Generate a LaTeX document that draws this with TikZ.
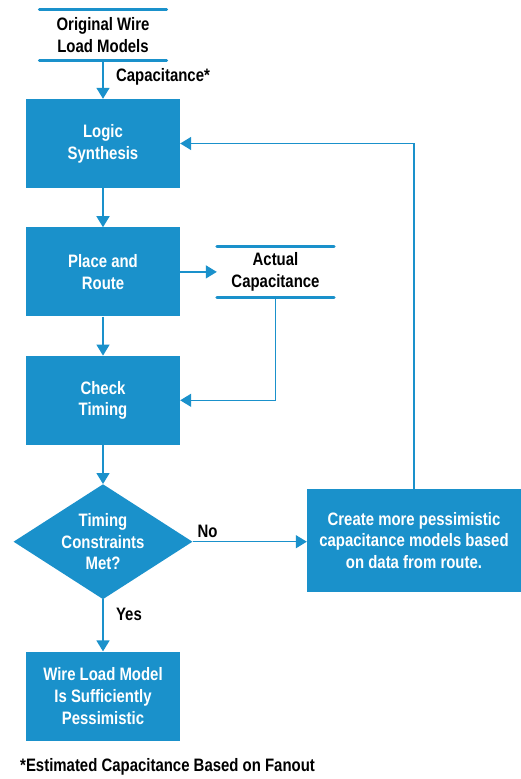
\documentclass[tikz,border=0pt]{standalone}
\usepackage{fontspec}
\setmainfont{Liberation Sans}[FakeStretch=0.83]
\usetikzlibrary{shapes.geometric, arrows.meta, positioning}
\definecolor{flowblue}{HTML}{1A91CB}

\begin{document}
\begin{tikzpicture}[x=1pt, y=-1pt,
    node distance=39pt,
    box/.style={rectangle, fill=flowblue, text=white, minimum width=154pt, minimum height=89pt, align=center, font=\bfseries\fontsize{18}{21.7}\selectfont},
    decision/.style={diamond, fill=flowblue, text=white, minimum width=179pt, minimum height=115pt, aspect=1.56, inner sep=0pt, align=center, font=\bfseries\fontsize{18}{21.7}\selectfont},
    store/.style={rectangle, minimum width=127pt, minimum height=50pt, align=center, font=\bfseries\fontsize{18}{21.7}\selectfont},
    tag/.style={anchor=west, xshift=9pt, text=black, font=\bfseries\fontsize{18}{21.7}\selectfont},
    rule/.style={flowblue, line width=3pt, line cap=round},
    arr/.style={-{Triangle[length=11pt, width=13pt]}, line width=1.5pt, flowblue},
  ]
    \useasboundingbox (0,0) rectangle (521,779);
    \node[store] (wire) at (103,35) {Original Wire\\Load Models};
    \node[box] (logic) at (103,143.5) {Logic\\Synthesis};
    \node[box, below=of logic] (place) {Place and\\Route};
    \node[box, below=of place] (check) {Check\\Timing};
    \node[decision, below=of check] (met) {Timing\\Constraints\\Met?};
    \node[box, below=52pt of met] (done) {Wire Load Model\\Is Sufficiently\\Pessimistic};
    \node[store, minimum width=117pt] (actual) at (275.5,272) {Actual\\Capacitance};
    \node[box, minimum width=214pt, minimum height=103pt] (create) at (414,540.5) {Create more pessimistic\\capacitance models based\\on data from route.};
    \node[anchor=west, inner sep=0pt, font=\bfseries\fontsize{18}{21.7}\selectfont] (foot) at (20,767) {*Estimated Capacitance Based on Fanout};
    \draw[rule] (wire.north west) -- (wire.north east);
    \draw[rule] (wire.south west) -- (wire.south east);
    \draw[rule] (actual.north west) -- (actual.north east);
    \draw[rule] (actual.south west) -- (actual.south east);
    \draw[arr] (wire) -- node[tag, pos=0.42] {Capacitance*} (logic);
    \draw[arr] (logic) -- (place);
    \draw[arr] (place) -- (check);
    \draw[arr] (check) -- (met);
    \draw[arr] (met) -- node[tag, pos=0.28] {Yes} (done);
    \draw[arr] (met.east) -- node[above, pos=0.13, text=black, font=\bfseries\fontsize{18}{21.7}\selectfont] {No} (met.east -| create.west);
    \draw[arr] (place.east) -- (place.east -| actual.west);
    \draw[arr] (actual.south) |- (check.east);
    \draw[arr] (create.north) |- (logic.east);
  \end{tikzpicture}
\end{document}
